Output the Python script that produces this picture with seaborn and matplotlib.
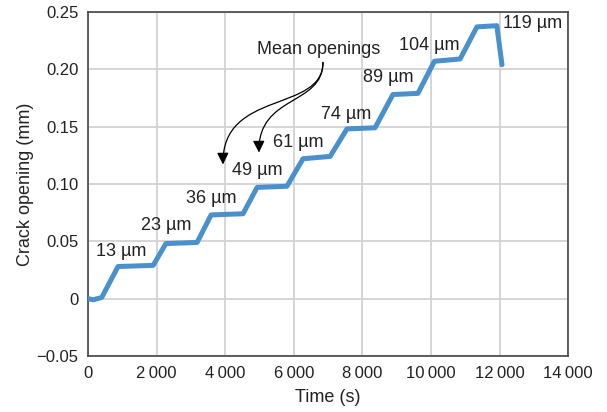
import numpy as np
import pandas as pd
import matplotlib.pyplot as plt
import seaborn as sns
from matplotlib.path import Path
from matplotlib.patches import FancyArrowPatch

# Corner points of the crack-opening record
time_s = [0, 150, 400, 875, 1900, 2270, 3180, 3590, 4520, 4930, 5800, 6270,
          7060, 7550, 8370, 8890, 9620, 10100, 10850, 11340, 11920, 12070]
opening_mm = [0.0, -0.001, 0.001, 0.028, 0.029, 0.048, 0.049, 0.073, 0.074,
              0.097, 0.098, 0.122, 0.124, 0.148, 0.149, 0.178, 0.179, 0.207,
              0.209, 0.237, 0.238, 0.204]

# Mean opening labels and where they sit
step_labels = ["13 µm", "23 µm", "36 µm", "49 µm", "61 µm", "74 µm",
               "89 µm", "104 µm", "119 µm"]
label_t = [960, 2280, 3590, 4930, 6120, 7520, 8750, 9940, 12970]
label_v = [0.041, 0.064, 0.087, 0.112, 0.136, 0.161, 0.193, 0.221, 0.240]

xticks = [0, 2000, 4000, 6000, 8000, 10000, 12000, 14000]
xtick_labels = ["0", "2\u2009000", "4\u2009000", "6\u2009000", "8\u2009000",
                "10\u2009000", "12\u2009000", "14\u2009000"]
yticks = [-0.05, 0, 0.05, 0.10, 0.15, 0.20, 0.25]
ytick_labels = ["\u22120.05", "0", "0.05", "0.10", "0.15", "0.20", "0.25"]

df = pd.DataFrame({"Time": time_s, "Opening": opening_mm})

sns.set_style("white")
plt.rcParams["font.family"] = ["Liberation Sans", "DejaVu Sans"]

fig = plt.figure(figsize=(6.07, 4.12), dpi=100)
ax = fig.add_axes([0.145, 0.136, 0.791, 0.835])

sns.lineplot(data=df, x="Time", y="Opening", color="#4a90cc", linewidth=3.6,
             sort=False, ax=ax, zorder=3)

ax.set_xlim(0, 14000)
ax.set_ylim(-0.05, 0.25)
ax.set_xticks(xticks)
ax.set_xticklabels(xtick_labels)
ax.set_yticks(yticks)
ax.set_yticklabels(ytick_labels)
ax.grid(True, color="#d2d2d2", linewidth=1.3)
ax.set_axisbelow(True)
ax.tick_params(direction="in", length=4, width=1.2, colors="#333333",
               labelcolor="#222222", labelsize=12, pad=7)
for s in ax.spines.values():
    s.set_color("#444444")
    s.set_linewidth(1.2)

ax.set_xlabel("Time (s)", fontsize=13, color="#222222", labelpad=6)
ax.set_ylabel("Crack opening (mm)", fontsize=13, color="#222222", labelpad=2)

for txt, t, v in zip(step_labels, label_t, label_v):
    ax.text(t, v, txt, ha="center", va="center", fontsize=13, color="#222222")

ax.text(6730, 0.217, "Mean openings", ha="center", va="center",
        fontsize=13, color="#222222")

# Two S-shaped arrows from the "Mean openings" note
curves = [
    [(6851, 0.2060), (6851, 0.162), (3907, 0.1824), (3936, 0.117)],
    [(6851, 0.2060), (6851, 0.1680), (4956, 0.178), (4985, 0.1274)],
]
for pts in curves:
    path = Path(pts, [Path.MOVETO, Path.CURVE4, Path.CURVE4, Path.CURVE4])
    arr = FancyArrowPatch(path=path, arrowstyle="-|>,head_length=7,head_width=3.5",
                          color="black", linewidth=0.9, zorder=4)
    ax.add_patch(arr)

fig.savefig("out.png", dpi=100)
